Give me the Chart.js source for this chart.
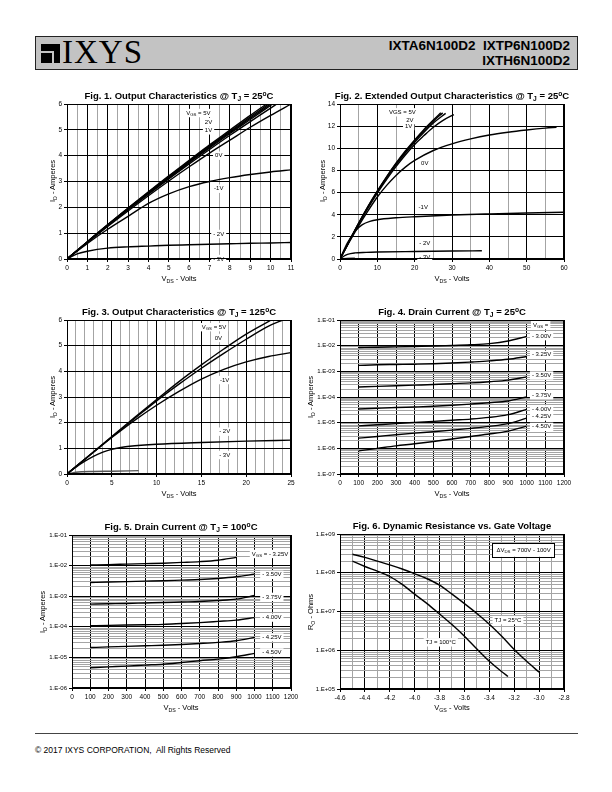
<!DOCTYPE html>
<html>
<head>
<meta charset="utf-8">
<script src="https://cdn.jsdelivr.net/npm/chart.js@4.4.0/dist/chart.umd.min.js"></script>
<style>
body{margin:0;width:612px;height:792px;background:#fff;position:relative;overflow:hidden;font-family:"Liberation Sans",Arial,sans-serif;color:#000}
.hdr{position:absolute;left:35px;top:36px;width:543px;height:34px;box-sizing:border-box;background:#c3c3c3;border:1px solid #222}
.logo{position:absolute;left:5px;top:7px;width:19px;height:19px;background:#000}
.logo i{position:absolute;background:#c3c3c3}
.brand{position:absolute;left:26px;top:-3px;font-family:"Liberation Serif","Times New Roman",serif;font-size:33px;letter-spacing:1px}
.pn{position:absolute;right:7px;font-weight:bold;font-size:13.5px;white-space:pre}
.ttl{position:absolute;font-weight:bold;font-size:9.5px;white-space:nowrap;transform:translate(-50%,-50%)}
.ax{position:absolute;font-size:7.5px;white-space:nowrap;transform:translate(-50%,-50%)}
.ay{position:absolute;font-size:7.5px;white-space:nowrap;transform:translate(-50%,-50%) rotate(-90deg)}
sub{font-size:70%;vertical-align:-2px;line-height:0}
sup{font-size:70%;vertical-align:3px;line-height:0}
canvas{position:absolute}
.foot{position:absolute;left:35px;top:745px;font-size:8.5px}
.rule{position:absolute;left:35px;top:733px;width:543px;height:1px;background:#444}
</style>
</head>
<body>
<div class="hdr">
  <div class="logo"><i style="left:0;top:7px;width:13px;height:2px"></i><i style="left:11px;top:7px;width:2px;height:12px"></i></div>
  <div class="brand">IXYS</div>
  <div class="pn" style="top:1px">IXTA6N100D2  IXTP6N100D2</div>
  <div class="pn" style="top:16px">IXTH6N100D2</div>
</div>

<canvas id="c1"></canvas><canvas id="c2"></canvas><canvas id="c3"></canvas>
<canvas id="c4"></canvas><canvas id="c5"></canvas><canvas id="c6"></canvas>

<div class="ttl" style="left:179px;top:95px">Fig. 1. Output Characteristics @ T<sub>J</sub> = 25<sup>o</sup>C</div>
<div class="ttl" style="left:452px;top:95px">Fig. 2. Extended Output Characteristics @ T<sub>J</sub> = 25<sup>o</sup>C</div>
<div class="ttl" style="left:179px;top:311px">Fig. 3. Output Characteristics @ T<sub>J</sub> = 125<sup>o</sup>C</div>
<div class="ttl" style="left:452px;top:311px">Fig. 4. Drain Current @ T<sub>J</sub> = 25<sup>o</sup>C</div>
<div class="ttl" style="left:181px;top:526px">Fig. 5. Drain Current @ T<sub>J</sub> = 100<sup>o</sup>C</div>
<div class="ttl" style="left:452px;top:525px">Fig. 6. Dynamic Resistance vs. Gate Voltage</div>

<div class="ax" style="left:179px;top:278px">V<sub>DS</sub> - Volts</div>
<div class="ax" style="left:452px;top:278px">V<sub>DS</sub> - Volts</div>
<div class="ax" style="left:179px;top:493px">V<sub>DS</sub> - Volts</div>
<div class="ax" style="left:452px;top:493px">V<sub>DS</sub> - Volts</div>
<div class="ax" style="left:181px;top:707px">V<sub>DS</sub> - Volts</div>
<div class="ax" style="left:452px;top:707px">V<sub>GS</sub> - Volts</div>

<div class="ay" style="left:52px;top:181px">I<sub>D</sub> - Amperes</div>
<div class="ay" style="left:322px;top:181px">I<sub>D</sub> - Amperes</div>
<div class="ay" style="left:52px;top:397px">I<sub>D</sub> - Amperes</div>
<div class="ay" style="left:310px;top:397px">I<sub>D</sub> - Amperes</div>
<div class="ay" style="left:42px;top:612px">I<sub>D</sub> - Amperes</div>
<div class="ay" style="left:310px;top:612px">R<sub>O</sub> - Ohms</div>

<div class="rule"></div>
<div class="foot">&copy; 2017 IXYS CORPORATION,&nbsp; All Rights Reserved</div>

<script>
// ---- Fig. 1  output characteristics 25C  [VDS, ID]
var f1Vgs5 = [[0,0],[1,0.67],[2,1.33],[3,1.97],[4,2.6],[5,3.22],[6,3.82],[7,4.42],[8,4.99],[9,5.56],[9.8,6.0]];
var f1Vgs4 = [[0,0],[1,0.67],[2,1.32],[3,1.96],[4,2.58],[5,3.19],[6,3.79],[7,4.38],[8,4.94],[9,5.5],[9.9,6.0]];
var f1Vgs3 = [[0,0],[1,0.66],[2,1.31],[3,1.94],[4,2.56],[5,3.17],[6,3.76],[7,4.34],[8,4.9],[9,5.45],[10,6.0]];
var f1Vgs2 = [[0,0],[1,0.66],[2,1.3],[3,1.93],[4,2.54],[5,3.14],[6,3.73],[7,4.3],[8,4.86],[9,5.4],[10.1,6.0]];
var f1Vgs1 = [[0,0],[1,0.65],[2,1.29],[3,1.91],[4,2.51],[5,3.1],[6,3.68],[7,4.24],[8,4.79],[9,5.32],[10,5.84],[10.3,6.0]];
var f1Vgs0 = [[0,0],[1,0.64],[2,1.26],[3,1.86],[4,2.45],[5,3.02],[6,3.57],[7,4.1],[8,4.6],[9,5.1],[10,5.56],[11,6.0]];
var f1VgsM1 = [[0,0],[1,0.6],[2,1.15],[3,1.65],[4,2.15],[5,2.52],[6,2.8],[7,3.0],[8,3.15],[9,3.27],[10,3.37],[11,3.45]];
var f1VgsM2 = [[0,0],[0.5,0.2],[1,0.3],[2,0.42],[3,0.47],[4,0.5],[5,0.53],[6,0.55],[7,0.57],[8,0.59],[9,0.61],[10,0.62],[11,0.64]];
var f1VgsM3 = [[0,0],[11,0.01]];
var f1Notes = [['V_{GS} = 5V',6.45,5.65],['2V',6.95,5.3],['1V',6.95,4.98],['0V',7.45,4.0],['-1V',7.45,2.72],['- 2V',7.45,0.97],['- 3V',7.45,0.0]];

// ---- Fig. 2  extended output characteristics 25C
var f2Vgs5 = [[0,0],[2.5,1.65],[5,3.25],[7.5,4.75],[10,6.15],[12.5,7.45],[15,8.65],[17.5,9.75],[20,10.75],[22.5,11.7],[25,12.55],[27,13.2]];
var f2Vgs4 = [[0,0],[2.5,1.64],[5,3.22],[7.5,4.72],[10,6.1],[12.5,7.4],[15,8.6],[17.5,9.68],[20,10.68],[22.5,11.6],[25,12.45],[27.5,13.2]];
var f2Vgs2 = [[0,0],[2.5,1.62],[5,3.2],[7.5,4.68],[10,6.05],[12.5,7.33],[15,8.5],[17.5,9.58],[20,10.55],[22.5,11.45],[25,12.28],[28.3,13.15]];
var f2Vgs1 = [[0,0],[2.5,1.6],[5,3.15],[7.5,4.6],[10,5.95],[12.5,7.2],[15,8.35],[17.5,9.4],[20,10.35],[22.5,11.15],[25,11.9],[27.5,12.5],[30.5,13.05]];
var f2Vgs0 = [[0,0],[2.5,1.55],[5,3.0],[7.5,4.35],[10,5.6],[12.5,6.65],[15,7.55],[17.5,8.3],[20,8.9],[25,9.8],[30,10.4],[35,10.85],[40,11.2],[45,11.45],[50,11.65],[55,11.82],[58,11.9]];
var f2VgsM1 = [[0,0],[2,1.45],[4,2.5],[6,3.1],[8,3.4],[10,3.55],[15,3.72],[20,3.82],[30,3.97],[40,4.07],[50,4.15],[60,4.22]];
var f2VgsM2 = [[0,0],[1,0.25],[2,0.42],[4,0.55],[7,0.6],[10,0.63],[20,0.68],[30,0.72],[38,0.74]];
var f2VgsM3 = [[0,0],[2,0.08],[4,0.1]];
var f2Notes = [['VGS = 5V',16.7,13.25],['2V',18.7,12.55],['1V',18.4,12.0],['0V',22.7,8.66],['-1V',22.3,4.7],['- 2V',22.7,1.43],['- 3V',22.7,0.15]];

// ---- Fig. 3  output characteristics 125C
var f3Vgs5 = [[0,0],[2.5,0.73],[5,1.46],[7.5,2.19],[10,2.9],[12.5,3.6],[15,4.25],[17.5,4.87],[20,5.45],[22.8,6.0]];
var f3Vgs0 = [[0,0],[2.5,0.72],[5,1.44],[7.5,2.15],[10,2.85],[12.5,3.5],[15,4.12],[17.5,4.7],[20,5.25],[22.5,5.76],[24.1,6.0]];
var f3VgsM1 = [[0,0],[2.5,0.72],[5,1.42],[7.5,2.08],[10,2.68],[12.5,3.22],[15,3.7],[17.5,4.08],[20,4.37],[22.5,4.58],[25,4.73]];
var f3VgsM2 = [[0,0],[1,0.27],[2,0.5],[3,0.7],[4,0.85],[5,0.96],[6,1.03],[7,1.08],[10,1.16],[15,1.23],[20,1.28],[25,1.32]];
var f3VgsM3 = [[0,0],[1,0.07],[3,0.1],[5,0.11],[8,0.13]];
var f3Notes = [['V_{GS} = 5V',16.4,5.72],['0V',16.9,5.3],['-1V',17.6,3.66],['- 2V',17.6,1.65],['- 3V',17.6,0.74]];

// ---- Fig. 4  drain current 25C (log)
var vds = [100,200,300,400,500,600,700,800,900,1000];
var f4Vgs300 = [8.5e-3,8.7e-3,9.0e-3,9.3e-3,9.6e-3,1.01e-2,1.08e-2,1.2e-2,1.52e-2,2.3e-2];
var f4Vgs325 = [1.7e-3,1.8e-3,1.85e-3,1.9e-3,1.97e-3,2.1e-3,2.3e-3,2.55e-3,2.95e-3,3.8e-3];
var f4Vgs350 = [2.45e-4,2.6e-4,2.75e-4,2.9e-4,3.05e-4,3.3e-4,3.55e-4,3.95e-4,4.55e-4,6.1e-4];
var f4Vgs375 = [3.4e-5,3.65e-5,3.9e-5,4.1e-5,4.35e-5,4.75e-5,5.3e-5,6.0e-5,7.0e-5,1.0e-4];
var f4Vgs400 = [7.5e-6,8.3e-6,9.2e-6,1.03e-5,1.12e-5,1.25e-5,1.38e-5,1.6e-5,2.05e-5,3.3e-5];
var f4Vgs425 = [2.5e-6,2.9e-6,3.4e-6,3.9e-6,4.4e-6,5.1e-6,6.0e-6,7.2e-6,9.2e-6,1.5e-5];
var f4Vgs450 = [8.0e-7,1.0e-6,1.25e-6,1.5e-6,1.85e-6,2.3e-6,2.9e-6,3.6e-6,4.7e-6,7.3e-6];
var f4Notes = [['V_{GS} =',1075,6.3e-2],['- 3.00V',1080,2.35e-2],['- 3.25V',1080,4.4e-3],['- 3.50V',1080,6.9e-4],['- 3.75V',1080,1.17e-4],['- 4.00V',1080,3.3e-5],['- 4.25V',1080,1.74e-5],['- 4.50V',1080,6.9e-6]];

// ---- Fig. 5  drain current 100C (log)
var f5Vgs325 = [1.05e-2,1.08e-2,1.12e-2,1.16e-2,1.2e-2,1.27e-2,1.35e-2,1.5e-2,1.85e-2,null];
var f5Vgs350 = [2.8e-3,2.9e-3,3.0e-3,3.1e-3,3.2e-3,3.35e-3,3.5e-3,3.8e-3,4.3e-3,5.2e-3];
var f5Vgs375 = [5.5e-4,5.65e-4,5.8e-4,6.0e-4,6.2e-4,6.45e-4,6.7e-4,7.2e-4,8.0e-4,1.05e-3];
var f5Vgs400 = [1.08e-4,1.11e-4,1.14e-4,1.17e-4,1.2e-4,1.28e-4,1.37e-4,1.5e-4,1.65e-4,2.0e-4];
var f5Vgs425 = [2.1e-5,2.2e-5,2.3e-5,2.4e-5,2.5e-5,2.65e-5,2.85e-5,3.1e-5,3.5e-5,4.5e-5];
var f5Vgs450 = [4.6e-6,4.9e-6,5.2e-6,5.6e-6,6.0e-6,6.8e-6,7.8e-6,8.8e-6,1.05e-5,1.35e-5];
var f5Notes = [['V_{GS} = - 3.25V',1085,2.4e-2],['- 3.50V',1095,5.0e-3],['- 3.75V',1095,9.5e-4],['- 4.00V',1095,2.0e-4],['- 4.25V',1095,4.5e-5],['- 4.50V',1095,1.45e-5]];

// ---- Fig. 6  dynamic resistance vs VGS [VGS, RO]
var f6Tj25 = [[-4.5,3.0e8],[-4.4,2.5e8],[-4.3,2.0e8],[-4.2,1.6e8],[-4.1,1.25e8],[-4.0,9.4e7],[-3.9,7.0e7],[-3.8,4.8e7],[-3.7,2.8e7],[-3.6,1.6e7],[-3.5,8.9e6],[-3.4,4.7e6],[-3.3,2.3e6],[-3.2,1.05e6],[-3.1,5.2e5],[-3.0,2.7e5]];
var f6Tj100 = [[-4.5,2.0e8],[-4.4,1.45e8],[-4.3,1.1e8],[-4.2,8.0e7],[-4.1,5.0e7],[-4.0,2.8e7],[-3.9,1.6e7],[-3.8,8.6e6],[-3.7,4.6e6],[-3.6,2.3e6],[-3.5,1.08e6],[-3.4,5.2e5],[-3.3,2.8e5],[-3.25,2.1e5]];
var f6Notes = [['TJ = 25\u00B0C',-3.25,6.0e6],['TJ = 100\u00B0C',-3.79,1.6e6]];
var f6Box = [['\u0394V_{DS} = 700V - 100V',-3.125,3.9e8]];

var FONT = '"Liberation Sans", Arial, sans-serif';
var PADL = 46, PADT = 8, PADR = 14, PADB = 18;

function onStep(v, s) { var r = v / s; return Math.abs(r - Math.round(r)) < 1e-6; }
function isDecade(v) { var l = Math.log10(v); return Math.abs(l - Math.round(l)) < 1e-6; }
function sci(v) { var e = Math.round(Math.log10(v)); var a = Math.abs(e); return '1.E' + (e < 0 ? '-' : '+') + (a < 10 ? '0' : '') + a; }

function linAxis(pos, min, max, step, labEvery, majEvery, dec) {
  return {
    type: 'linear', position: pos, min: min, max: max,
    ticks: { stepSize: step, autoSkip: false, maxRotation: 0, color: '#000', padding: 2, font: { size: 6.5, family: FONT },
      callback: function (v) { return onStep(v, labEvery) ? (dec ? v.toFixed(dec) : String(Math.round(v))) : ''; } },
    grid: { lineWidth: 1, tickLength: 3,
      color: function (c) { return !c.tick || onStep(c.tick.value, majEvery) ? '#000' : '#a4a4a4'; },
      tickColor: function (c) { return c.tick && onStep(c.tick.value, labEvery) ? '#000' : 'rgba(0,0,0,0)'; } },
    border: { color: '#000', width: 1 },
    afterFit: function (s) { if (pos === 'left') s.width = PADL; else s.height = PADB; }
  };
}
function logAxis(lo, hi) {
  return {
    type: 'logarithmic', position: 'left', min: Math.pow(10, lo), max: Math.pow(10, hi),
    afterBuildTicks: function (s) {
      var t = [];
      for (var e = lo; e < hi; e++) for (var m = 1; m < 10; m++) t.push({ value: m * Math.pow(10, e) });
      t.push({ value: Math.pow(10, hi) });
      s.ticks = t;
    },
    ticks: { autoSkip: false, color: '#000', padding: 2, font: { size: 6, family: FONT },
      callback: function (v) { return isDecade(v) ? sci(v) : ''; } },
    grid: { lineWidth: 1, tickLength: 3,
      color: function (c) { return !c.tick || isDecade(c.tick.value) ? '#000' : '#a4a4a4'; },
      tickColor: function (c) { return c.tick && isDecade(c.tick.value) ? '#000' : 'rgba(0,0,0,0)'; } },
    border: { color: '#000', width: 1 },
    afterFit: function (s) { s.width = PADL; }
  };
}

// text with _{sub} pieces
function pieces(t) {
  var out = [], re = /_\{([^}]*)\}/g, last = 0, m;
  while ((m = re.exec(t))) { if (m.index > last) out.push([t.slice(last, m.index), 0]); out.push([m[1], 1]); last = re.lastIndex; }
  if (last < t.length) out.push([t.slice(last), 0]);
  return out;
}
function drawRich(ctx, t, cx, cy, size, boxed) {
  var ps = pieces(t), w = 0;
  ps.forEach(function (p) { ctx.font = (p[1] ? size * 0.72 : size) + 'px ' + FONT; p.push(ctx.measureText(p[0]).width); w += p[2]; });
  var x = cx - w / 2;
  ctx.fillStyle = '#fff';
  if (boxed) {
    ctx.fillRect(x - 4, cy - size - 1, w + 8, size * 2 + 2);
    ctx.strokeStyle = '#000'; ctx.lineWidth = 1;
    ctx.strokeRect(Math.round(x - 4) + 0.5, Math.round(cy - size - 1) + 0.5, Math.round(w + 8), Math.round(size * 2 + 2));
  } else {
    ctx.fillRect(x - 2, cy - size * 0.7, w + 4, size * 1.4);
  }
  ctx.fillStyle = '#000'; ctx.textBaseline = 'middle'; ctx.textAlign = 'left';
  ps.forEach(function (p) {
    ctx.font = (p[1] ? size * 0.72 : size) + 'px ' + FONT;
    ctx.fillText(p[0], x, cy + (p[1] ? size * 0.25 : 0));
    x += p[2];
  });
}
var notesPlugin = {
  id: 'notes',
  beforeDatasetsDraw: function (chart, args, o) {
    var ctx = chart.ctx, xs = chart.scales.x, ys = chart.scales.y;
    ctx.save();
    (o.items || []).forEach(function (n) { drawRich(ctx, n[0], xs.getPixelForValue(n[1]), ys.getPixelForValue(n[2]), o.size || 6, false); });
    (o.boxes || []).forEach(function (n) { drawRich(ctx, n[0], xs.getPixelForValue(n[1]), ys.getPixelForValue(n[2]), o.size || 6, true); });
    ctx.restore();
  },
  afterDraw: function (chart) {
    var a = chart.chartArea, ctx = chart.ctx;
    ctx.save(); ctx.strokeStyle = '#000'; ctx.lineWidth = 1;
    ctx.strokeRect(Math.round(a.left) + 0.5, Math.round(a.top) + 0.5, Math.round(a.right - a.left) - 1, Math.round(a.bottom - a.top) - 1);
    ctx.restore();
  }
};

function pts(arr) { return arr.map(function (p) { return { x: p[0], y: p[1] }; }); }
function cols(ys) { var o = []; ys.forEach(function (y, i) { if (y !== null) o.push({ x: vds[i], y: y }); }); return o; }
function ds(data, color) {
  return { data: data, borderColor: color || '#000', borderWidth: 1.4, pointRadius: 0, fill: false, cubicInterpolationMode: 'monotone' };
}

function build(id, rect, xAxis, yAxis, sets, notes, boxes) {
  var c = document.getElementById(id);
  c.width = rect[2] - rect[0] + PADL + PADR;
  c.height = rect[3] - rect[1] + PADT + PADB;
  c.style.left = (rect[0] - PADL) + 'px';
  c.style.top = (rect[1] - PADT) + 'px';
  new Chart(c.getContext('2d'), {
    type: 'line',
    data: { datasets: sets },
    options: {
      responsive: false, animation: false, devicePixelRatio: 1,
      layout: { padding: { left: 0, top: PADT, right: PADR, bottom: 0 } },
      plugins: { legend: { display: false }, tooltip: { enabled: false }, notes: { items: notes, boxes: boxes || [] } },
      scales: { x: xAxis, y: yAxis }
    },
    plugins: [notesPlugin]
  });
}

build('c1', [67, 104, 291, 259], linAxis('bottom', 0, 11, 0.5, 1, 1), linAxis('left', 0, 6, 1, 1, 1),
  [ds(pts(f1Vgs5)), ds(pts(f1Vgs4)), ds(pts(f1Vgs3)), ds(pts(f1Vgs2)), ds(pts(f1Vgs1)), ds(pts(f1Vgs0)), ds(pts(f1VgsM1)), ds(pts(f1VgsM2)), ds(pts(f1VgsM3), '#444')],
  f1Notes);
build('c2', [340, 104, 564, 259], linAxis('bottom', 0, 60, 5, 10, 10), linAxis('left', 0, 14, 2, 2, 2),
  [ds(pts(f2Vgs5)), ds(pts(f2Vgs4)), ds(pts(f2Vgs2)), ds(pts(f2Vgs1)), ds(pts(f2Vgs0)), ds(pts(f2VgsM1)), ds(pts(f2VgsM2)), ds(pts(f2VgsM3), '#777')],
  f2Notes);
build('c3', [67, 320, 291, 474], linAxis('bottom', 0, 25, 1, 5, 5), linAxis('left', 0, 6, 1, 1, 1),
  [ds(pts(f3Vgs5)), ds(pts(f3Vgs0)), ds(pts(f3VgsM1)), ds(pts(f3VgsM2)), ds(pts(f3VgsM3), '#555')],
  f3Notes);
build('c4', [340, 320, 564, 474], linAxis('bottom', 0, 1200, 100, 100, 100), logAxis(-7, -1),
  [ds(cols(f4Vgs300)), ds(cols(f4Vgs325)), ds(cols(f4Vgs350)), ds(cols(f4Vgs375)), ds(cols(f4Vgs400)), ds(cols(f4Vgs425)), ds(cols(f4Vgs450))],
  f4Notes);
build('c5', [72, 535, 291, 688], linAxis('bottom', 0, 1200, 100, 100, 100), logAxis(-6, -1),
  [ds(cols(f5Vgs325)), ds(cols(f5Vgs350)), ds(cols(f5Vgs375)), ds(cols(f5Vgs400)), ds(cols(f5Vgs425)), ds(cols(f5Vgs450))],
  f5Notes);
build('c6', [340, 534, 564, 689], linAxis('bottom', -4.6, -2.8, 0.1, 0.2, 0.2, 1), logAxis(5, 9),
  [ds(pts(f6Tj25)), ds(pts(f6Tj100))],
  f6Notes, f6Box);
</script>
</body>
</html>
